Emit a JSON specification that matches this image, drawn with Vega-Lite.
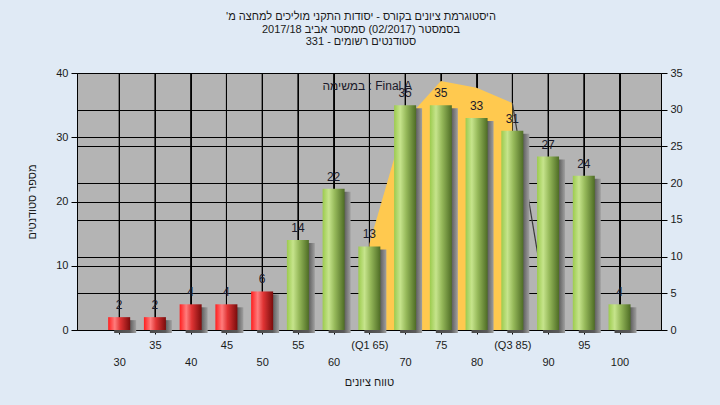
{
  "$schema": "https://vega.github.io/schema/vega-lite/v6.json",
  "width": 584,
  "height": 257,
  "autosize": {"type": "none"},
  "padding": {"left": 77, "top": 73, "right": 59, "bottom": 75},
  "background": "#e0eaf5",
  "config": {
    "font": "Liberation Sans",
    "view": {"fill": "#b4b4b4", "stroke": null},
    "axis": {
      "labelFont": "Liberation Sans",
      "titleFont": "Liberation Sans",
      "labelFontSize": 11,
      "titleFontSize": 11,
      "titleFontWeight": "normal",
      "labelColor": "#1a1a1a",
      "titleColor": "#1a1a1a",
      "domainColor": "#000000",
      "tickColor": "#000000",
      "gridColor": "#000000",
      "gridOpacity": 1,
      "gridWidth": 1,
      "domainWidth": 1,
      "grid": true
    }
  },
  "title": {
    "text": [
      "היסטוגרמת ציונים בקורס - יסודות התקני מוליכים למחצה מ'\u200f",
      "בסמסטר  (02/2017)  סמסטר אביב 2017/18",
      "סטודנטים רשומים - 331"
    ],
    "font": "Liberation Sans",
    "fontSize": 11,
    "fontWeight": "normal",
    "color": "#1a1a1a",
    "anchor": "middle",
    "dx": -8,
    "offset": 20,
    "lineHeight": 12.5
  },
  "datasets": {
    "hist": [
      {"score": 30, "count": 2},
      {"score": 35, "count": 2},
      {"score": 40, "count": 4},
      {"score": 45, "count": 4},
      {"score": 50, "count": 6},
      {"score": 55, "count": 14},
      {"score": 60, "count": 22},
      {"score": 65, "count": 13},
      {"score": 70, "count": 35},
      {"score": 75, "count": 35},
      {"score": 80, "count": 33},
      {"score": 85, "count": 31},
      {"score": 90, "count": 27},
      {"score": 95, "count": 24},
      {"score": 100, "count": 4}
    ],
    "curve": [
      {"score": 65, "val": 11.7},
      {"score": 70, "val": 28.5},
      {"score": 75, "val": 33.9},
      {"score": 80, "val": 33.0},
      {"score": 85, "val": 30.9}
    ],
    "tail": [
      {"score": 85, "val": 30.9},
      {"score": 90, "val": 2}
    ]
  },
  "layer": [
    {
      "encoding": {
        "x": {
          "field": "score",
          "type": "quantitative",
          "scale": {"domain": [24.8, 105.1], "nice": false, "zero": false},
          "axis": {
            "values": [30, 35, 40, 45, 50, 55, 60, 65, 70, 75, 80, 85, 90, 95, 100],
            "grid": true,
            "tickSize": 4,
            "labelPadding": 5,
            "labelOverlap": false,
            "labelFlush": false,
            "labelBaseline": "top",
            "labelLineHeight": 17,
            "labelExpr": "datum.value % 10 == 0 ? ['', datum.label] : [datum.value == 65 ? '(Q1 65)' : (datum.value == 85 ? '(Q3 85)' : datum.label)]",
            "title": "טווח ציונים",
            "titlePadding": 9
          }
        }
      },
      "layer": [
        {
          "encoding": {
            "y": {
              "field": "val",
              "type": "quantitative",
              "scale": {"domain": [0, 35], "nice": false},
              "axis": {
                "orient": "right",
                "values": [0, 5, 10, 15, 20, 25, 30, 35],
                "grid": true,
                "tickSize": 6,
                "labelPadding": 3,
                "labelOverlap": false,
                "title": null
              }
            }
          },
          "layer": [
            {
              "data": {"name": "hist"},
              "mark": {"type": "rule", "color": "#000000", "strokeWidth": 1},
              "encoding": {"y": null}
            },
            {
              "data": {"name": "curve"},
              "mark": {"type": "area", "color": "#ffc94f", "opacity": 1}
            },
            {
              "data": {"name": "tail"},
              "mark": {"type": "line", "color": "#3a3a3a", "strokeWidth": 1.2}
            }
          ]
        },
        {
          "data": {"name": "hist"},
          "encoding": {
            "y": {
              "field": "count",
              "type": "quantitative",
              "scale": {"domain": [0, 40], "nice": false},
              "axis": {
                "orient": "left",
                "values": [0, 10, 20, 30, 40],
                "grid": true,
                "tickSize": 6,
                "labelPadding": 3,
                "labelOverlap": false,
                "title": "מספר סטודנטים",
                "titlePadding": 18
              }
            }
          },
          "layer": [
            {
              "mark": {
                "type": "bar",
                "size": 22,
                "xOffset": 6,
                "yOffset": 3,
                "color": {
                  "gradient": "linear", "x1": 0, "x2": 1, "y1": 0, "y2": 0,
                  "stops": [
                    {"offset": 0, "color": "#4a4a4a"},
                    {"offset": 0.7, "color": "#5a5a5a"},
                    {"offset": 1, "color": "#a0a0a0"}
                  ]
                }
              }
            },
            {
              "transform": [{"filter": "datum.score < 55"}],
              "mark": {
                "type": "bar",
                "size": 22,
                "color": {
                  "gradient": "linear", "x1": 0, "x2": 1, "y1": 0, "y2": 0,
                  "stops": [
                    {"offset": 0, "color": "#ff1e1e"},
                    {"offset": 0.3, "color": "#ff7d7d"},
                    {"offset": 0.55, "color": "#e03434"},
                    {"offset": 1, "color": "#7a0c0c"}
                  ]
                }
              }
            },
            {
              "transform": [{"filter": "datum.score >= 55"}],
              "mark": {
                "type": "bar",
                "size": 22,
                "color": {
                  "gradient": "linear", "x1": 0, "x2": 1, "y1": 0, "y2": 0,
                  "stops": [
                    {"offset": 0, "color": "#9ccb4e"},
                    {"offset": 0.28, "color": "#c6e48c"},
                    {"offset": 0.55, "color": "#96b95a"},
                    {"offset": 1, "color": "#4e6c25"}
                  ]
                }
              }
            },
            {
              "mark": {"type": "text", "baseline": "bottom", "dy": -5, "fontSize": 12, "color": "#1a1a2a", "font": "Liberation Sans"},
              "encoding": {
                "text": {"field": "count", "type": "quantitative"}
              }
            }
          ]
        }
      ],
      "resolve": {"scale": {"y": "independent"}}
    },
    {
      "data": {"values": [{"note": "במשימה : Final A"}]},
      "mark": {"type": "text", "align": "center", "baseline": "middle", "fontSize": 12, "color": "#1a1a2a", "font": "Liberation Sans"},
      "encoding": {
        "x": {"datum": 64.7, "type": "quantitative"},
        "y": {"datum": 38, "type": "quantitative", "scale": {"domain": [0, 40], "nice": false}, "axis": null},
        "text": {"field": "note", "type": "nominal"}
      }
    }
  ],
  "resolve": {"scale": {"y": "independent"}}
}
